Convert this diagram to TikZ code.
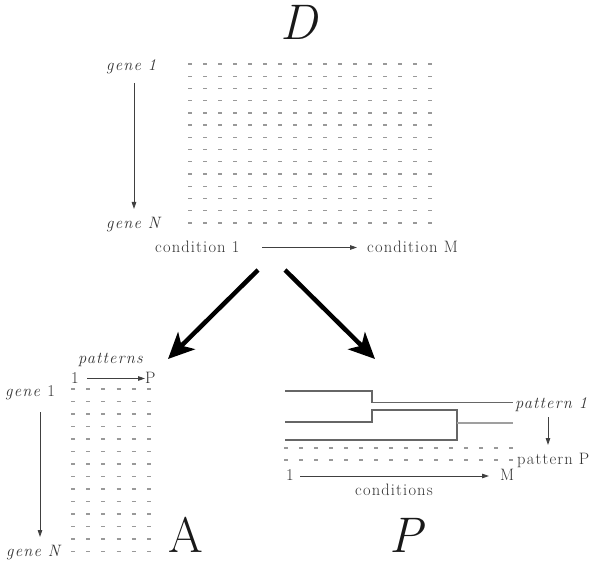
\documentclass[tikz,border=0pt]{standalone}
\usepackage{fontspec}
\usetikzlibrary{arrows.meta}
\newfontfamily\lblfam{Latin Modern Roman}[LetterSpace=7]
\newcommand\lblfont{\lblfam\fontsize{16.5}{19}\selectfont}
\tikzset{
  lbl/.style={font=\lblfont, text=black!80, inner sep=0pt, anchor=base west},
  bigletter/.style={font=\fontsize{50}{60}\selectfont, text=black!90, inner sep=0pt, anchor=base},
  thinarrow/.style={-{Triangle[length=7pt,width=4.5pt]}, draw=black!75, line width=0.8pt},
  fatarrow/.style={-{Stealth[length=26pt,width=24pt,inset=7pt]}, draw=black, line width=4.5pt},
  cell/.style={draw=gray!80, line width=1.3pt},
  tree/.style={draw=gray!80!black, line width=1.1pt},
}
\begin{document}
\begin{tikzpicture}[x=1pt,y=-1pt]
  \useasboundingbox (0,0) rectangle (600,564);

  % ---------- data matrix D ----------
  \node[bigletter, font=\fontsize{50}{60}\selectfont\itshape] (D) at (299,40) {D};
  \foreach \i in {0,...,16}
    \foreach \j in {0,...,13}
      \draw[cell] ({188+15*\i},{64+12.23*\j}) -- ++(4,0);

  \node[lbl, font=\lblfont\itshape] (g1) at (106,71) {gene 1};
  \node[lbl, font=\lblfont\itshape] (gN) at (106,229) {gene N};
  \coordinate (g1s) at (134,83);
  \coordinate (gNn) at (134,209);
  \draw[thinarrow] (g1s) -- (gNn);

  \node[lbl] (c1) at (155,253) {condition 1};
  \node[lbl] (cM) at (367,253) {condition M};
  \coordinate (c1e) at (262,247.5);
  \coordinate (cMw) at (357,247.5);
  \draw[thinarrow] (c1e) -- (cMw);

  % ---------- the two derived results ----------
  \coordinate (splitL) at (258,270);
  \coordinate (splitR) at (285,270);
  \coordinate (toA) at (168,359);
  \coordinate (toP) at (375,359);
  \draw[fatarrow] (splitL) -- (toA);
  \draw[fatarrow] (splitR) -- (toP);

  % ---------- matrix A ----------
  \node[lbl, font=\lblfont\itshape] (pat) at (78,363) {patterns};
  \node[lbl] (a1) at (71,383) {1};
  \node[lbl] (aP) at (145,383) {P};
  \coordinate (a1e) at (87,378.5);
  \coordinate (aPw) at (145,378.5);
  \draw[thinarrow] (a1e) -- (aPw);

  \foreach \i in {0,...,5}
    \foreach \j in {0,...,13}
      \draw[cell] ({71+15.2*\i},{389+12.5*\j}) -- ++(4,0);

  \node[lbl] (ag1) at (5,396) {\textit{gene} 1};
  \node[lbl, font=\lblfont\itshape] (agN) at (6,556) {gene N};
  \coordinate (ag1s) at (40,412);
  \coordinate (agNn) at (40,537);
  \draw[thinarrow] (ag1s) -- (agNn);

  \node[bigletter] (A) at (186,552) {A};

  % ---------- matrix P ----------
  \draw[tree] (285,391) -- (372,391) -- (372,402.5) -- (513,402.5);
  \draw[tree] (285,422) -- (372,422) -- (372,410) -- (457,410) -- (457,440) -- (285,440);
  \draw[draw=gray!75, line width=2.6pt] (457,423) -- (513,423);

  \foreach \i in {0,...,15}
    \foreach \j in {0,1}
      \draw[cell] ({284+15*\i},{448+12*\j}) -- ++(4,0);

  \node[lbl, font=\lblfont\itshape] (p1) at (515,408) {pattern 1};
  \node[lbl] (pP) at (517,464) {pattern P};
  \coordinate (p1s) at (548,417);
  \coordinate (pPn) at (548,445);
  \draw[thinarrow] (p1s) -- (pPn);

  \node[lbl] (m1) at (286,480.5) {1};
  \node[lbl] (mM) at (500,480.5) {M};
  \coordinate (m1e) at (300,476);
  \coordinate (mMw) at (489,476);
  \draw[thinarrow] (m1e) -- (mMw);
  \node[lbl] (conds) at (355,495) {conditions};

  \node[bigletter, font=\fontsize{50}{60}\selectfont\itshape] (P) at (406,552) {P};
\end{tikzpicture}
\end{document}
